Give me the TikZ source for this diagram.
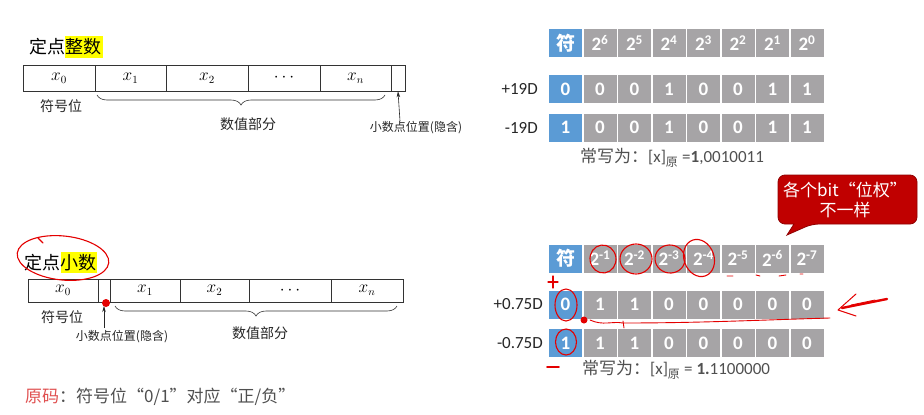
\documentclass[tikz,border=0pt]{standalone}
\usepackage{fontspec}
\setmainfont{Carlito}
\newfontfamily\cjk{Noto Sans CJK SC}
\usetikzlibrary{decorations.pathreplacing,arrows.meta,calc}
\definecolor{cblue}{RGB}{91,155,213}
\definecolor{cgrey}{RGB}{166,164,166}
\definecolor{cred}{RGB}{192,0,0}
\definecolor{ink}{RGB}{80,80,80}
\definecolor{pen}{RGB}{228,0,0}
\definecolor{hl}{RGB}{255,255,0}
\definecolor{ylred}{RGB}{224,80,80}
\tikzset{
  cell/.style={minimum width=33pt, minimum height=28pt, inner sep=0pt, text=white,
    font=\fontsize{19}{19}\selectfont\bfseries},
  signcell/.style={cell, fill=cblue},
  bitcell/.style={cell, fill=cgrey},
  regcell/.style={draw=black!80, line width=0.6pt, inner sep=0pt, font=\fontsize{16}{16}\selectfont},
  lbl/.style={inner sep=0pt, font=\fontsize{14}{14}\selectfont\cjk, text=black!85},
  small/.style={inner sep=0pt, font=\fontsize{12}{12}\selectfont\cjk, text=black!85},
  rowlbl/.style={inner sep=0pt, anchor=east, font=\fontsize{17}{17}\selectfont, text=black!85},
  note/.style={inner sep=0pt, anchor=west, font=\fontsize{17}{17}\selectfont, text=ink},
  bracebig/.style={decorate, decoration={brace, mirror, amplitude=10pt, aspect=0.5}, draw=black!80, line width=0.6pt},
  uparrow/.style={draw=black!85, line width=0.6pt, -{Stealth[length=6pt,width=3.5pt]}},
  pencil/.style={draw=pen, line width=1.1pt, line cap=round, line join=round}
}
\begin{document}
\begin{tikzpicture}[x=1pt,y=-1pt]
\useasboundingbox (0,0) rectangle (924,415);
\fill[white] (0,0) rectangle (924,415);

% ---------- top left: fixed-point integer ----------
\fill[hl] (65,36) rectangle (103,58);
\node[inner sep=0pt, anchor=west, font=\fontsize{18}{18}\selectfont\cjk] (t1) at (29,47) {定点整数};
\node[regcell, minimum width=72pt, minimum height=26pt] (a0) at (59,78) {$x_0$};
\node[regcell, minimum width=71pt, minimum height=26pt] (a1) at (130.5,78) {$x_1$};
\node[regcell, minimum width=82pt, minimum height=26pt] (a2) at (207,78) {$x_2$};
\node[regcell, minimum width=72pt, minimum height=26pt] (a3) at (284,78) {$\cdots$};
\node[regcell, minimum width=71pt, minimum height=26pt] (a4) at (355.5,78) {$x_n$};
\node[regcell, minimum width=14pt, minimum height=26pt] (a5) at (398,78) {};
\node[lbl] (a0l) at (61,106) {符号位};
\draw[bracebig] (97,95) -- (385,95);
\node[lbl] (a1l) at (248,124) {数值部分};
\coordinate (apt) at (400,121);
\draw[uparrow] (apt) -- (a5.south);
\node[small] (apl) at (416,128) {小数点位置(隐含)};

% ---------- bottom left: fixed-point fraction ----------
\fill[hl] (61,252) rectangle (97,273);
\node[inner sep=0pt, anchor=west, font=\fontsize{18}{18}\selectfont\cjk] (t2) at (24,263) {定点小数};
\node[regcell, minimum width=70pt, minimum height=23pt] (b0) at (63,290.5) {$x_0$};
\node[regcell, minimum width=12pt, minimum height=23pt] (bp) at (104,290.5) {};
\node[regcell, minimum width=70pt, minimum height=23pt] (b1) at (145,290.5) {$x_1$};
\node[regcell, minimum width=69pt, minimum height=23pt] (b2) at (214.5,290.5) {$x_2$};
\node[regcell, minimum width=82pt, minimum height=23pt] (b3) at (290,290.5) {$\cdots$};
\node[regcell, minimum width=72pt, minimum height=23pt] (b4) at (367,290.5) {$x_n$};
\node[lbl] (b0l) at (62,317) {符号位};
\draw[bracebig] (115,306) -- (397,306);
\node[lbl] (b1l) at (260,333) {数值部分};
\coordinate (bpt) at (104,328);
\coordinate (bptt) at (104,306);
\draw[uparrow] (bpt) -- (bptt);
\node[small] (bpl) at (122,337) {小数点位置(隐含)};

% bottom text
\node[inner sep=0pt, anchor=west, font=\fontsize{17}{17}\selectfont\cjk, text=ink] (yuanma) at (25,397)
  {\textcolor{ylred}{原码}：符号位“0/1”对应“正/负”};

% ---------- top right table ----------
\node[signcell] (ah0) at (565.5,43) {\cjk 符};
\foreach \t [count=\i] in {6,5,4,3,2,1,0}
  \node[bitcell] (ah\i) at ({565.5+34.5*\i},43) {2\textsuperscript{\t}};
\node[signcell] (ar0) at (565.5,89) {0};
\foreach \t [count=\i] in {0,0,1,0,0,1,1}
  \node[bitcell] (ar\i) at ({565.5+34.5*\i},89) {\t};
\node[signcell] (as0) at (565.5,127.5) {1};
\foreach \t [count=\i] in {0,0,1,0,0,1,1}
  \node[bitcell] (as\i) at ({565.5+34.5*\i},127.5) {\t};
\node[rowlbl] (arl) at (538,89) {+19D};
\node[rowlbl] (asl) at (538,127.5) {-19D};
\node[note] (an) at (580,158) {{\cjk 常写为：}[x]\textsubscript{\cjk 原} =\textbf{1},0010011};

% ---------- bottom right table ----------
\node[signcell] (bh0) at (565.5,258.5) {\cjk 符};
\foreach \t [count=\i] in {-1,-2,-3,-4,-5,-6,-7}
  \node[bitcell] (bh\i) at ({565.5+34.5*\i},258.5) {2\textsuperscript{\t}};
\node[signcell] (br0) at (565.5,304.5) {0};
\foreach \t [count=\i] in {1,1,0,0,0,0,0}
  \node[bitcell] (br\i) at ({565.5+34.5*\i},304.5) {\t};
\node[signcell] (bs0) at (565.5,343) {1};
\foreach \t [count=\i] in {1,1,0,0,0,0,0}
  \node[bitcell] (bs\i) at ({565.5+34.5*\i},343) {\t};
\node[rowlbl] (brl) at (543,304.5) {+0.75D};
\node[rowlbl] (bsl) at (543,343) {-0.75D};
\node[note] (bn) at (582,370) {{\cjk 常写为：}[x]\textsubscript{\cjk 原} = \textbf{1.}1100000};

% ---------- callout ----------
\draw[fill=cred, draw=cred!75!black, line width=0.8pt, rounded corners=7pt]
  (778,175) -- (917,175) -- (917,224) -- (812,224) [sharp corners] -- (787,235) -- (794,224) [rounded corners=7pt] -- (778,224) -- cycle;
\node[inner sep=0pt, align=center, text=white, font=\fontsize{17}{20}\selectfont\cjk] (callout) at (845,200)
  {各个bit“位权”\\不一样};

% ---------- red pen annotations ----------
\draw[pencil, rotate around={-6:(63,258)}] (63,258) ellipse [x radius=46, y radius=22];
\draw[pencil] (38,238) -- (43,243);
\fill[pen] (106,303) circle [radius=4];
\draw[pencil, rotate around={8:(603,259)}] (603,259) ellipse [x radius=13, y radius=14];
\draw[pencil] (636,259) ellipse [x radius=16, y radius=15];
\draw[pencil, rotate around={-8:(670,259)}] (670,259) ellipse [x radius=15, y radius=14];
\draw[pencil, rotate around={20:(699,258)}] (699,258) ellipse [x radius=15, y radius=19];
\draw[pencil] (566,305) ellipse [x radius=11, y radius=16];
\draw[pencil] (566,342) ellipse [x radius=10.5, y radius=13];
\draw[pencil] (548,282) -- (558,282) (553,276) -- (553,288);
\draw[pencil, line width=1.6pt] (547,367) -- (559,367);
\fill[pen] (584,320) circle [radius=3.5];
\draw[pencil, line width=0.9pt] (590,320) .. controls (603,326) and (612,321) .. (623,323)
  .. controls (700,323) and (760,320) .. (830,318);
\draw[pencil, line width=0.9pt] (623,321) -- (624,328);
\draw[pencil, line width=0.9pt] (727,276) -- (733,276) (756,275) -- (760,276) (779,276) -- (786,275) (800,274) -- (803,274);
\draw[pencil, line width=2.4pt] (887,299) -- (842,308);
\draw[pencil, line width=1pt] (856,294) -- (838,310) -- (856,316);
\draw[pencil, line width=0.8pt] (851,305) -- (875,300);
\end{tikzpicture}
\end{document}
